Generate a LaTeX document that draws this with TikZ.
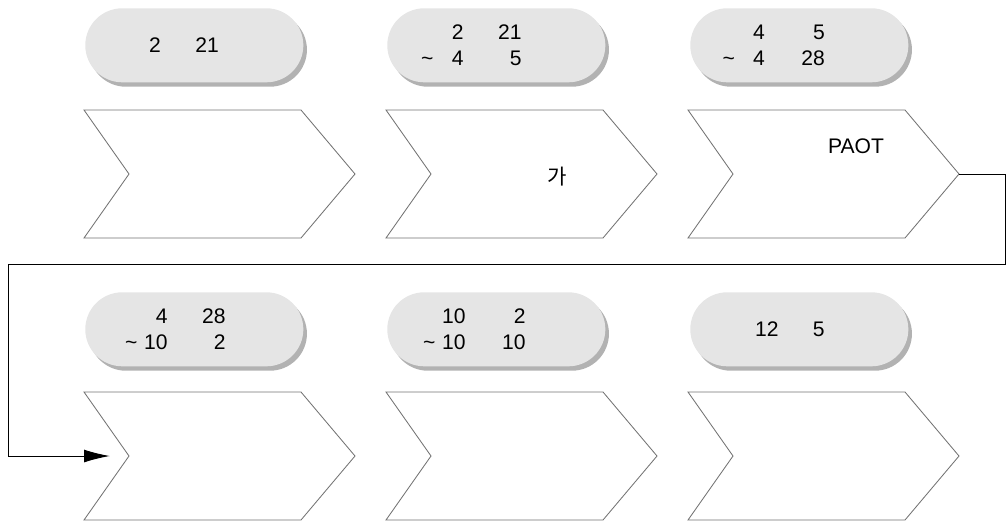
\documentclass[tikz,border=0pt]{standalone}
\usepackage{fontspec}
\setmainfont{Liberation Sans}
\newfontfamily\krfont{Noto Sans CJK KR}
\usetikzlibrary{arrows.meta, positioning, shadows}

% one date line: tilde | month | day (right aligned columns)
\newcommand{\dl}[4][1.45cm]{\makebox[0.35cm][r]{#2}\makebox[0.75cm][r]{#3}\makebox[#1][r]{#4}}

\begin{document}
\begin{tikzpicture}[
    x=0.025cm, y=-0.025cm,
    font=\fontsize{15}{19.1}\selectfont,
    pill/.style={rectangle, rounded corners=0.925cm, fill=gray!20,
                 minimum width=5.45cm, minimum height=1.85cm, inner sep=0pt,
                 drop shadow={shadow xshift=0.09cm, shadow yshift=-0.11cm, fill=gray!60, opacity=1}},
    dtxt/.style={align=left, inner sep=0pt, anchor=east},
    chev/.style={draw=gray!90!black, line width=0.6pt, fill=white, line join=miter},
    lbl/.style={inner sep=0pt},
    link/.style={-{Latex[length=0.64cm, width=0.32cm]}, line width=0.7pt}
]
\useasboundingbox (0,0) rectangle (1006,522);

% ===== DATE PILLS =====
\node[pill, anchor=north west] (D1) at (85,8) {};
\node[pill, anchor=north west] (D2) at (387,8) {};
\node[pill, anchor=north west] (D3) at (690,8) {};
\node[pill, anchor=north west] (D4) at (85,292) {};
\node[pill, anchor=north west] (D5) at (387,292) {};
\node[pill, anchor=north west] (D6) at (690,292) {};

\node[dtxt] (T1) at ([xshift=3.35cm]D1.west) {\dl{}{2}{21}};
\node[dtxt] (T2) at ([xshift=3.37cm]D2.west) {\dl{}{2}{21}\\\dl{\textasciitilde}{4}{5}};
\node[dtxt] (T3) at ([xshift=3.38cm]D3.west) {\dl[1.5cm]{}{4}{5}\\\dl[1.5cm]{\textasciitilde}{4}{28}};
\node[dtxt] (T4) at ([xshift=3.52cm]D4.west) {\dl{}{4}{28}\\\dl{\textasciitilde}{10}{2}};
\node[dtxt] (T5) at ([xshift=3.47cm]D5.west) {\dl[1.5cm]{}{10}{2}\\\dl[1.5cm]{\textasciitilde}{10}{10}};
\node[dtxt] (T6) at ([xshift=3.37cm]D6.west) {\dl[1.15cm]{}{12}{5}};

% ===== STEP CHEVRONS =====
\foreach \n/\x/\y in {1/84/110, 2/386/110, 3/688/110, 4/84/392, 5/386/392, 6/688/392} {
  \draw[chev] (\x,\y) -- ++(217,0) -- ++(54,64) coordinate (C\n-tip)
    -- ++(-54,64) -- ++(-217,0) -- ++(45,-64) coordinate (C\n-in) -- cycle;
}

\node[lbl] (L2) at (557,177) {\krfont 가};
\node[lbl] (L3) at (856,146) {PAOT};

% ===== ROW CHANGE =====
\coordinate (turnR) at (1005,264);
\coordinate (turnL) at (8,264);
\coordinate (C4-arr) at ([xshift=-0.48cm]C4-in);
\draw[link] (C3-tip) -| (turnR) -- (turnL) |- (C4-arr);

\end{tikzpicture}
\end{document}
